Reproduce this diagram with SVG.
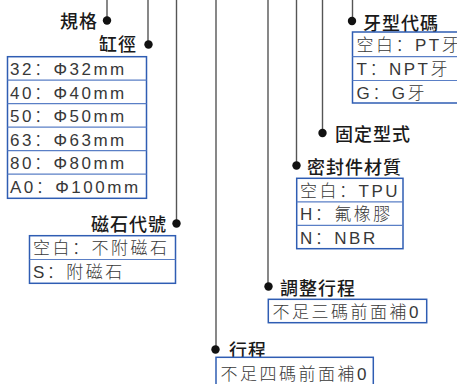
<svg xmlns="http://www.w3.org/2000/svg" width="457" height="384" viewBox="0 0 457 384">
<style>
.ln{stroke:#555;stroke-width:1.4;fill:none}
.dot{fill:#111}
.lbl{font-family:"Noto Sans CJK TC","Noto Sans CJK SC",sans-serif;font-size:18px;font-weight:500;fill:#1a1a1a;letter-spacing:1px}
.box{fill:#fff;stroke:#2f5db3;stroke-width:1.5}
.div{stroke:#5a7fc6;stroke-width:1.2}
.bt{font-family:"Liberation Sans","Noto Sans CJK SC",sans-serif;font-size:17px;font-weight:300;fill:#383838;letter-spacing:2.5px}
</style>
<rect width="457" height="384" fill="#fff"/>
<g id="connectors">
<line class="ln" x1="107" y1="0" x2="107" y2="20"/>
<line class="ln" x1="148" y1="0" x2="148" y2="44"/>
<line class="ln" x1="176.5" y1="0" x2="176.5" y2="223"/>
<line class="ln" x1="216" y1="0" x2="216" y2="349"/>
<line class="ln" x1="268" y1="0" x2="268" y2="286"/>
<line class="ln" x1="296.5" y1="0" x2="296.5" y2="165"/>
<line class="ln" x1="322.5" y1="0" x2="322.5" y2="133"/>
<line class="ln" x1="352.5" y1="0" x2="352.5" y2="21"/>
</g>
<g id="guige">
<circle class="dot" cx="107" cy="20.5" r="4.2"/>
<text class="lbl" x="98" y="27.5" text-anchor="end">規格</text>
</g>
<g id="gangjing">
<circle class="dot" cx="148.5" cy="44.5" r="4.2"/>
<text class="lbl" x="137" y="51" text-anchor="end">缸徑</text>
<rect class="box" x="7.5" y="56.7" width="139" height="141.6"/>
<line class="div" x1="7.5" y1="80.2" x2="146.5" y2="80.2"/>
<line class="div" x1="7.5" y1="103.7" x2="146.5" y2="103.7"/>
<line class="div" x1="7.5" y1="127.2" x2="146.5" y2="127.2"/>
<line class="div" x1="7.5" y1="150.7" x2="146.5" y2="150.7"/>
<line class="div" x1="7.5" y1="174.2" x2="146.5" y2="174.2"/>
<text class="bt" x="10" y="75">32：Φ32mm</text>
<text class="bt" x="10" y="98.5">40：Φ40mm</text>
<text class="bt" x="10" y="122">50：Φ50mm</text>
<text class="bt" x="10" y="145.5">63：Φ63mm</text>
<text class="bt" x="10" y="169">80：Φ80mm</text>
<text class="bt" x="10" y="192.5">A0：Φ100mm</text>
</g>
<g id="cishi">
<circle class="dot" cx="176.5" cy="223.5" r="4.2"/>
<text class="lbl" x="167" y="231" text-anchor="end">磁石代號</text>
<rect class="box" x="29.5" y="235.7" width="146" height="47.6"/>
<line class="div" x1="29.5" y1="259.5" x2="175.5" y2="259.5"/>
<text class="bt" x="33" y="254">空白：不附磁石</text>
<text class="bt" x="33" y="277.5">S：附磁石</text>
</g>
<g id="yaxing">
<circle class="dot" cx="352" cy="21" r="4.2"/>
<text class="lbl" x="363" y="29.5">牙型代碼</text>
<rect class="box" x="352.5" y="32" width="112" height="71"/>
<line class="div" x1="352.5" y1="56.7" x2="457" y2="56.7"/>
<line class="div" x1="352.5" y1="80.5" x2="457" y2="80.5"/>
<text class="bt" x="356.5" y="51">空白：PT牙</text>
<text class="bt" x="356.5" y="75">T：NPT牙</text>
<text class="bt" x="356.5" y="98.5">G：G牙</text>
</g>
<g id="guding">
<circle class="dot" cx="322.5" cy="133" r="4.2"/>
<text class="lbl" x="335" y="141">固定型式</text>
</g>
<g id="mifeng">
<circle class="dot" cx="296.5" cy="165.5" r="4.2"/>
<text class="lbl" x="307" y="173.5">密封件材質</text>
<rect class="box" x="296.7" y="178.3" width="106.3" height="70.4"/>
<line class="div" x1="296.7" y1="201.8" x2="403" y2="201.8"/>
<line class="div" x1="296.7" y1="225.3" x2="403" y2="225.3"/>
<text class="bt" x="300" y="196.5">空白：TPU</text>
<text class="bt" x="300" y="220">H：氟橡膠</text>
<text class="bt" x="300" y="243.5">N：NBR</text>
</g>
<g id="tiaozheng">
<circle class="dot" cx="268.5" cy="286.5" r="4.2"/>
<text class="lbl" x="280" y="294.5">調整行程</text>
<rect class="box" x="268.3" y="299.3" width="158.4" height="23.4"/>
<text class="bt" x="272.5" y="317.5">不足三碼前面補0</text>
</g>
<g id="xingcheng">
<circle class="dot" cx="215.5" cy="349.5" r="4.2"/>
<text class="lbl" x="229" y="357">行程</text>
<rect class="box" x="216" y="357.3" width="157.3" height="32"/>
<text class="bt" x="220.5" y="379.5">不足四碼前面補0</text>
</g>
</svg>
